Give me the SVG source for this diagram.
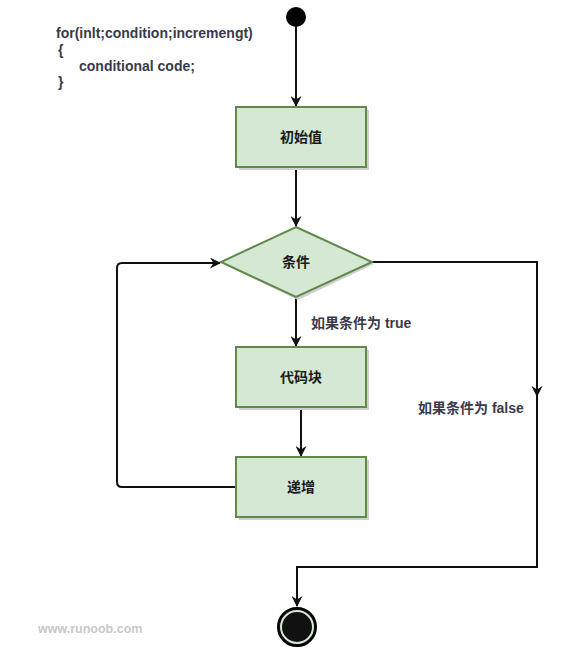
<svg xmlns="http://www.w3.org/2000/svg" width="569" height="648" viewBox="0 0 569 648">
<defs>
<style>
.box{fill:#d5e8d4;stroke:#5f8a4a;stroke-width:2}
.shadow{fill:#d0d0d0}
.edge{fill:none;stroke:#111;stroke-width:2}
.t{font-family:"Liberation Sans","Noto Sans CJK SC",sans-serif;font-size:14px;font-weight:bold;fill:#1a1a1a}
.lbl{font-family:"Liberation Sans","Noto Sans CJK SC",sans-serif;font-size:14px;font-weight:bold;fill:#3a3a4a}
</style>
<marker id="arr" markerWidth="11" markerHeight="11" refX="10" refY="5.5" orient="auto" markerUnits="userSpaceOnUse">
<path d="M0,0 L11,5.5 L0,11 L3.5,5.5 Z" fill="#111"/>
</marker>
</defs>
<rect width="569" height="648" fill="#fff"/>
<g id="code">
<text class="lbl" x="56" y="38">for(inlt;condition;incremengt)</text>
<text class="lbl" x="58" y="55">{</text>
<text class="lbl" x="79" y="71">conditional code;</text>
<text class="lbl" x="58" y="87">}</text>
</g>
<g id="connectors">
<path class="edge" d="M296,27 V106" marker-end="url(#arr)"/>
<path class="edge" d="M296,168 V226" marker-end="url(#arr)"/>
<path class="edge" d="M296,298 V346" stroke-width="1.5" marker-end="url(#arr)"/>
<path class="edge" d="M301,408 V456" marker-end="url(#arr)"/>
<path class="edge" d="M236,487 H122 Q117,487 117,482 V268 Q117,263 122,263 H220" marker-end="url(#arr)"/>
<path class="edge" d="M372,262 H537 V396" marker-end="url(#arr)"/>
<path class="edge" d="M537,396 V567 H297 V606" marker-end="url(#arr)"/>
</g>
<g id="start">
<circle cx="296" cy="17" r="10" fill="#000"/>
</g>
<g id="init">
<rect class="shadow" x="239" y="110" width="130" height="60"/>
<rect class="box" x="236" y="107" width="130" height="60"/>
<text class="t" x="301" y="142" text-anchor="middle">初始值</text>
</g>
<g id="cond">
<polygon class="shadow" points="298,229 374,264 298,300 223,264"/>
<polygon class="box" points="296,227 372,262 296,297 221,262"/>
<text class="t" x="296" y="267" text-anchor="middle">条件</text>
</g>
<g id="code-block">
<rect class="shadow" x="239" y="350" width="130" height="60"/>
<rect class="box" x="236" y="347" width="130" height="60"/>
<text class="t" x="301" y="382" text-anchor="middle">代码块</text>
</g>
<g id="incr">
<rect class="shadow" x="239" y="460" width="130" height="60"/>
<rect class="box" x="236" y="457" width="130" height="60"/>
<text class="t" x="301" y="492" text-anchor="middle">递增</text>
</g>
<g id="end">
<circle cx="297" cy="627" r="19" fill="#111" stroke="#000" stroke-width="2"/>
<circle cx="297" cy="627" r="16" fill="#111" stroke="#d5e8d4" stroke-width="2"/>
</g>
<g id="labels">
<text class="lbl" x="311" y="328">如果条件为 true</text>
<text class="lbl" x="418" y="413">如果条件为 false</text>
<text x="38" y="633" font-family="'Liberation Sans',sans-serif" font-size="12.5" font-weight="bold" fill="#c8c8c8">www.runoob.com</text>
</g>
</svg>
